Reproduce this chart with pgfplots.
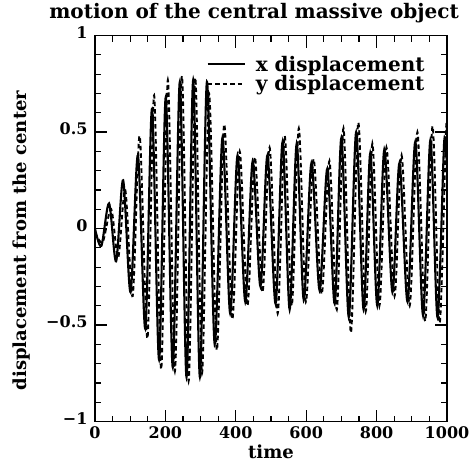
\documentclass[border=0pt]{standalone}
\usepackage{fontspec}
\setmainfont{DejaVu Serif}
\usepackage{pgfplots}
\pgfplotsset{compat=1.18}
\newcommand\tck{\fontsize{16}{19}\selectfont\bfseries}
\newcommand\lbl{\fontsize{18}{21}\selectfont\bfseries}
\newcommand\lgd{\fontsize{20}{23}\selectfont\bfseries}
\newcommand\ttl{\fontsize{20}{24}\selectfont\bfseries}

\begin{document}
\begin{tikzpicture}
\begin{axis}[
  scale only axis, width=352pt, height=386pt,
  xmin=0, xmax=1000, ymin=-1, ymax=1,
  axis line style={line width=1.6pt},
  xtick={0,200,...,1000}, xticklabels={0,200,400,600,800,1000},
  ytick={-1,-0.5,0,0.5,1}, yticklabels={−1,−0.5,0,0.5,1},
  minor x tick num=3, minor y tick num=4,
  tick pos=both, tick align=inside,
  major tick length=12pt, minor tick length=6pt,
  every tick/.style={line width=1.2pt, black},
  tick label style={font=\tck},
  xticklabel style={yshift=-2pt},
  yticklabel style={xshift=-4pt, yshift=3pt},
  title={motion of the central massive object},
  title style={font=\ttl, at={(axis description cs:0.452,1)}, anchor=base, yshift=11pt},
  xlabel={time},
  xlabel style={font=\lbl, at={(axis description cs:0.5,0)}, anchor=north, yshift=-20pt},
  ylabel={displacement from the center},
  ylabel style={font=\lbl, at={(axis description cs:-0.21,0.469)}, anchor=center},
  legend style={draw=none, fill=none, inner sep=0pt, font=\lgd,
    at={(rel axis cs:0.94,0.950)}, anchor=north east,
    nodes={inner sep=1pt}, row sep=1pt,
    /tikz/every odd column/.append style={column sep=9pt}},
  legend cell align=left,
  legend image code/.code={\draw[#1, line width=2.2pt] (0pt,0pt) -- (37pt,0pt);},
]
\addplot[black, line width=2.1pt, smooth] coordinates {
(0,0.00) (18,-0.09) (40,0.13) (60,-0.17) (80,0.25) (101,-0.33)
(122,0.38) (143,-0.52) (162,0.62) (182,-0.68) (201,0.68) (221,-0.72)
(241,0.76) (260,-0.77) (279,0.77) (298,-0.77) (318,0.76) (340,-0.60)
(362,0.47) (384,-0.44) (405,0.38) (427,-0.38) (448,0.35) (470,-0.30)
(490,0.38) (513,-0.39) (533,0.45) (553,-0.42) (573,0.44) (593,-0.37)
(615,0.34) (638,-0.32) (660,0.31) (681,-0.39) (700,0.47) (721,-0.46)
(742,0.50) (763,-0.42) (782,0.39) (802,-0.40) (822,0.41) (845,-0.33)
(865,0.34) (888,-0.38) (910,0.45) (932,-0.45) (953,0.46) (973,-0.46)
(992,0.45) (1000,0.30)
};
\addlegendentry{x displacement}
\addplot[black, line width=1.9pt, smooth, dash pattern=on 4.5pt off 3pt] coordinates {
(0,-0.02) (22,-0.07) (46,0.10) (66,-0.15) (86,0.20) (107,-0.35)
(127,0.48) (149,-0.57) (168,0.69) (188,-0.73) (207,0.77) (227,-0.74)
(247,0.79) (266,-0.79) (285,0.78) (304,-0.75) (324,0.70) (346,-0.63)
(367,0.54) (390,-0.47) (411,0.40) (433,-0.40) (454,0.37) (476,-0.33)
(496,0.42) (519,-0.44) (539,0.48) (559,-0.40) (579,0.52) (599,-0.38)
(621,0.36) (644,-0.34) (666,0.35) (687,-0.42) (706,0.52) (727,-0.54)
(748,0.55) (769,-0.43) (788,0.44) (808,-0.40) (828,0.42) (851,-0.35)
(871,0.38) (894,-0.40) (916,0.50) (938,-0.48) (959,0.53) (979,-0.49)
(997,0.50) (1000,0.45)
};
\addlegendentry{y displacement}
\end{axis}
\path (-95pt,-51pt) rectangle (380pt,417pt);
\end{tikzpicture}
\end{document}
